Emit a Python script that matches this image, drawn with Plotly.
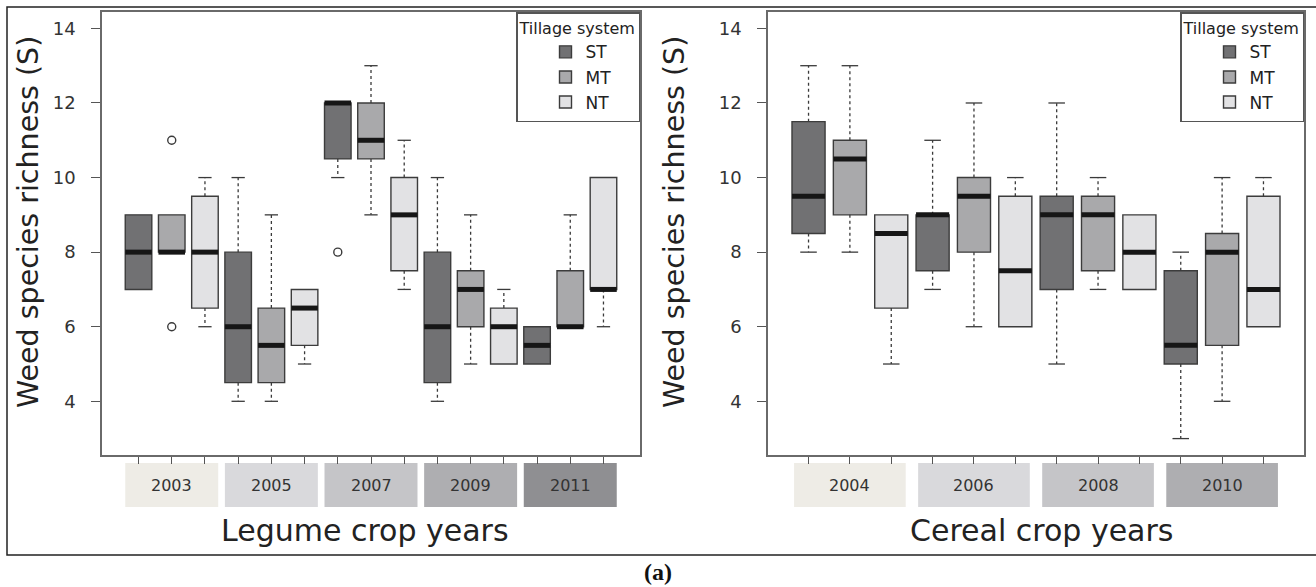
import plotly.graph_objects as go

# ---- data -----------------------------------------------------------------
systems = ["ST", "MT", "NT"]
system_fill = ["#717173", "#a9a9ab", "#e2e2e4"]

legume_years = ["2003", "2005", "2007", "2009", "2011"]
cereal_years = ["2004", "2006", "2008", "2010"]
legume_band_colors = ["#eeece6", "#d9d9dc", "#c5c5c8", "#aeaeb1", "#8f8f92"]
cereal_band_colors = ["#eeece6", "#d9d9dc", "#c5c5c8", "#aeaeb1"]

# per-year summaries: [lower whisker, Q1, median, Q3, upper whisker]
legume_st = [[7, 7, 8, 9, 9], [4, 4.5, 6, 8, 10], [10, 10.5, 12, 12, 12],
             [4, 4.5, 6, 8, 10], [5, 5, 5.5, 6, 6]]
legume_mt = [[8, 8, 8, 9, 9], [4, 4.5, 5.5, 6.5, 9], [9, 10.5, 11, 12, 13],
             [5, 6, 7, 7.5, 9], [6, 6, 6, 7.5, 9]]
legume_nt = [[6, 6.5, 8, 9.5, 10], [5, 5.5, 6.5, 7, 7], [7, 7.5, 9, 10, 11],
             [5, 5, 6, 6.5, 7], [6, 7, 7, 10, 10]]
# outliers as (year index, value)
legume_st_outliers = [(2, 8)]
legume_mt_outliers = [(0, 11), (0, 6)]
legume_nt_outliers = []

cereal_st = [[8, 8.5, 9.5, 11.5, 13], [7, 7.5, 9, 9, 11], [5, 7, 9, 9.5, 12],
             [3, 5, 5.5, 7.5, 8]]
cereal_mt = [[8, 9, 10.5, 11, 13], [6, 8, 9.5, 10, 12], [7, 7.5, 9, 9.5, 10],
             [4, 5.5, 8, 8.5, 10]]
cereal_nt = [[5, 6.5, 8.5, 9, 9], [6, 6, 7.5, 9.5, 10], [7, 7, 8, 9, 9],
             [6, 6, 7, 9.5, 10]]
cereal_st_outliers = []
cereal_mt_outliers = []
cereal_nt_outliers = []

y_ticks = [4, 6, 8, 10, 12, 14]

# ---- layout geometry (pixels of a 1316 x 587 page) ------------------------
W, H = 1316, 587
FONT = "DejaVu Sans"
BOX_W = 0.8
STAPLE_W = 0.4

left_dom = [102 / W, 640 / W]
right_dom = [768 / W, 1304 / W]
y_dom = [1 - 455 / H, 1 - 12 / H]

fig = go.Figure()


def add_panel(xa, ya, years, summaries, outliers, legend_name):
    n = len(years)
    for j, (sname, fill) in enumerate(zip(systems, system_fill)):
        stats = summaries[j]
        pos = [3 * i + j + 1 for i in range(n)]
        lo = [s[0] for s in stats]
        q1 = [s[1] for s in stats]
        med = [s[2] for s in stats]
        q3 = [s[3] for s in stats]
        hi = [s[4] for s in stats]

        # dashed whiskers and solid staples
        wx, wy, sx, sy = [], [], [], []
        for p, a, b, c, d in zip(pos, lo, q1, q3, hi):
            if d > c:
                wx += [p, p, None]
                wy += [c, d, None]
                sx += [p - STAPLE_W / 2, p + STAPLE_W / 2, None]
                sy += [d, d, None]
            if a < b:
                wx += [p, p, None]
                wy += [b, a, None]
                sx += [p - STAPLE_W / 2, p + STAPLE_W / 2, None]
                sy += [a, a, None]
        fig.add_trace(go.Scatter(x=wx, y=wy, mode="lines", xaxis=xa, yaxis=ya,
                                 line=dict(color="#3a3a3a", width=1.3, dash="3px,3px"),
                                 showlegend=False, hoverinfo="skip"))
        fig.add_trace(go.Scatter(x=sx, y=sy, mode="lines", xaxis=xa, yaxis=ya,
                                 line=dict(color="#3a3a3a", width=1.3),
                                 showlegend=False, hoverinfo="skip"))

        # boxes (whiskers drawn separately above)
        fig.add_trace(go.Box(x=pos, q1=q1, median=med, q3=q3,
                             lowerfence=q1, upperfence=q3,
                             width=BOX_W, whiskerwidth=0, boxpoints=False,
                             fillcolor=fill, line=dict(color="#3c3c3c", width=1.4),
                             name=sname, legend=legend_name,
                             xaxis=xa, yaxis=ya, hoverinfo="skip"))

        # thick median bars
        mx, my = [], []
        for p, m in zip(pos, med):
            mx += [p - BOX_W / 2, p + BOX_W / 2, None]
            my += [m, m, None]
        fig.add_trace(go.Scatter(x=mx, y=my, mode="lines", xaxis=xa, yaxis=ya,
                                 line=dict(color="#161616", width=5),
                                 showlegend=False, hoverinfo="skip"))

        # outliers
        if outliers[j]:
            ox = [3 * i + j + 1 for i, _ in outliers[j]]
            oy = [v for _, v in outliers[j]]
            fig.add_trace(go.Scatter(x=ox, y=oy, mode="markers", xaxis=xa, yaxis=ya,
                                     marker=dict(symbol="circle-open", size=8,
                                                 color="#3a3a3a", line=dict(width=1.4)),
                                     showlegend=False, hoverinfo="skip"))


add_panel("x", "y", legume_years, [legume_st, legume_mt, legume_nt],
          [legume_st_outliers, legume_mt_outliers, legume_nt_outliers], "legend")
add_panel("x2", "y2", cereal_years, [cereal_st, cereal_mt, cereal_nt],
          [cereal_st_outliers, cereal_mt_outliers, cereal_nt_outliers], "legend2")

shapes = []
annotations = []

band_y0 = 1 - 507 / H
band_y1 = 1 - 463 / H
band_mid = 1 - 485 / H


def year_bands(xref, years, colors, half):
    for i, (yr, col) in enumerate(zip(years, colors)):
        c = 3 * i + 2
        shapes.append(dict(type="rect", xref=xref, yref="paper",
                           x0=c - half, x1=c + half, y0=band_y0, y1=band_y1,
                           fillcolor=col, line=dict(width=0), layer="below"))
        annotations.append(dict(x=c, y=band_mid, xref=xref, yref="paper",
                                text=yr, showarrow=False,
                                xanchor="center", yanchor="middle",
                                font=dict(family=FONT, size=16, color="#333333")))


year_bands("x", legume_years, legume_band_colors, 1.4)
year_bands("x2", cereal_years, cereal_band_colors, 1.35)

# x titles
annotations.append(dict(x=365 / W, y=1 - 530 / H,
                        xref="paper", yref="paper", text="Legume crop years",
                        showarrow=False, xanchor="center", yanchor="middle",
                        font=dict(family=FONT, size=30, color="#222222")))
annotations.append(dict(x=1041 / W, y=1 - 530 / H,
                        xref="paper", yref="paper", text="Cereal crop years",
                        showarrow=False, xanchor="center", yanchor="middle",
                        font=dict(family=FONT, size=30, color="#222222")))
# y titles
for xpx in (28, 674):
    annotations.append(dict(x=xpx / W, y=1 - 222 / H, xref="paper", yref="paper",
                            text="Weed species richness (S)", textangle=-90,
                            showarrow=False, xanchor="center", yanchor="middle",
                            font=dict(family=FONT, size=28.5, color="#222222")))
# panel tag
annotations.append(dict(x=658 / W, y=1 - 572 / H, xref="paper", yref="paper",
                        text="<b>(a)</b>", showarrow=False,
                        xanchor="center", yanchor="middle",
                        font=dict(family="Liberation Serif", size=24, color="#111111")))

# outer frame
shapes.append(dict(type="rect", xref="paper", yref="paper",
                   x0=7 / W, x1=1.02, y0=1 - 555 / H, y1=1 - 7 / H,
                   line=dict(color="#222222", width=1.5), fillcolor="rgba(0,0,0,0)"))

axis_common = dict(showline=True, mirror=True, linecolor="#6a6a6a", linewidth=1.6,
                   showgrid=False, zeroline=False, ticks="outside",
                   tickcolor="#555555", tickwidth=1.2)

legend_common = dict(bgcolor="white", bordercolor="#555555", borderwidth=1.5,
                     yanchor="top", xanchor="right", y=y_dom[1],
                     font=dict(family=FONT, size=17, color="#222222"),
                     title=dict(text="Tillage system",
                                font=dict(family=FONT, size=16, color="#222222")),
                     indentation=28, tracegroupgap=0)

fig.update_layout(
    width=W, height=H,
    margin=dict(l=0, r=0, t=0, b=0),
    paper_bgcolor="white", plot_bgcolor="white",
    font=dict(family=FONT, color="#333333"),
    xaxis=dict(domain=left_dom, range=[-0.1, 16.1],
               tickvals=list(range(1, 16)), showticklabels=False, ticklen=7,
               anchor="y", **axis_common),
    yaxis=dict(domain=y_dom, range=[2.56, 14.44], tickvals=y_ticks, ticklen=9,
               ticklabelstandoff=12, anchor="x",
               tickfont=dict(family=FONT, size=18, color="#333333"), **axis_common),
    xaxis2=dict(domain=right_dom, range=[0.02, 12.98],
                tickvals=list(range(1, 13)), showticklabels=False, ticklen=7,
                anchor="y2", **axis_common),
    yaxis2=dict(domain=y_dom, range=[2.56, 14.44], tickvals=y_ticks, ticklen=9,
                ticklabelstandoff=12, anchor="x2",
                tickfont=dict(family=FONT, size=18, color="#333333"), **axis_common),
    legend=dict(x=left_dom[1], **legend_common),
    legend2=dict(x=right_dom[1], **legend_common),
    shapes=shapes,
    annotations=annotations,
    showlegend=True,
)

fig.write_html("out.html")
